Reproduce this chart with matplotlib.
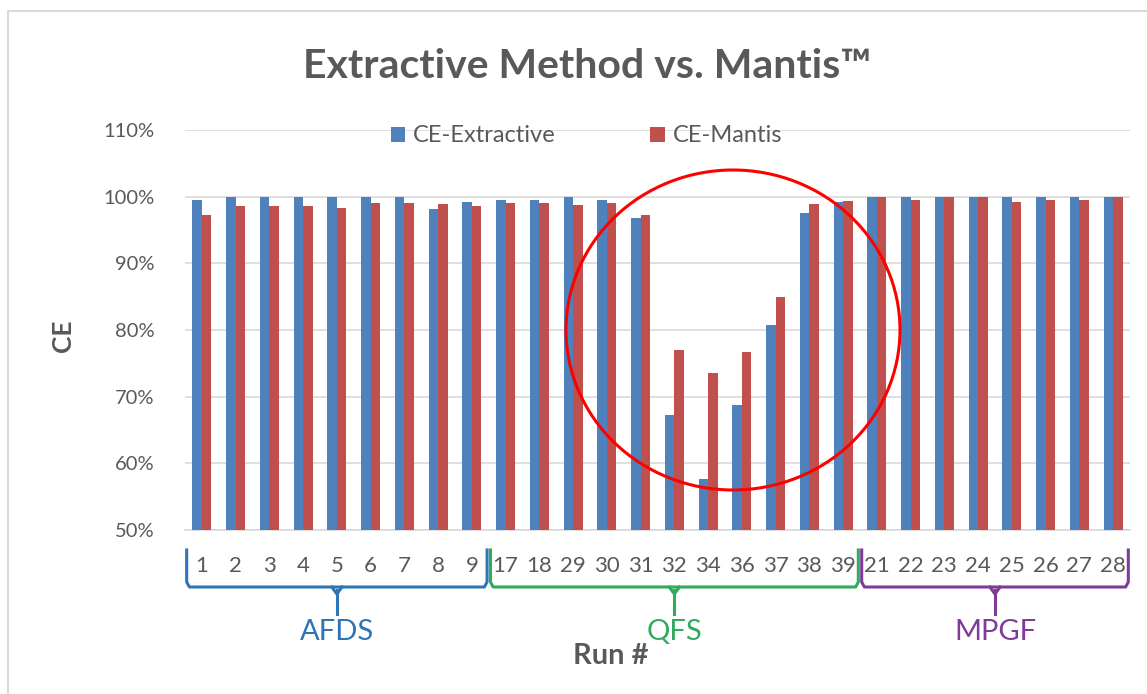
import matplotlib.pyplot as plt
import matplotlib.patches as mpatches
import matplotlib.transforms as mtransforms
import numpy as np

plt.rcParams['font.family'] = ['Lato', 'DejaVu Sans']

# data
runs = ['1', '2', '3', '4', '5', '6', '7', '8', '9',
        '17', '18', '29', '30', '31', '32', '34', '36', '37', '38', '39',
        '21', '22', '23', '24', '25', '26', '27', '28']
ce_extractive = [99.5, 99.9, 100, 100, 100, 100, 100, 98.2, 99.2,
                 99.5, 99.5, 100, 99.5, 96.8, 67.2, 57.7, 68.8, 80.8, 97.6, 99.2,
                 100, 100, 100, 100, 100, 100, 100, 100]
ce_mantis = [97.3, 98.6, 98.6, 98.6, 98.3, 99.0, 99.0, 98.9, 98.6,
             99.0, 99.0, 98.7, 99.0, 97.3, 77.0, 73.6, 76.7, 85.0, 98.9, 99.4,
             100, 99.5, 100, 100, 99.2, 99.5, 99.5, 100]
groups = ['AFDS', 'QFS', 'MPGF']
group_sizes = [9, 11, 8]
group_colors = ['#2e75b6', '#2eab5c', '#7d3c98']

grey = '#595959'
blue = '#4f81bd'
red = '#c0504d'

fig = plt.figure(figsize=(11.47, 6.94), dpi=100)
ax = fig.add_axes([185 / 1147, 1 - 530 / 694, (1130 - 185) / 1147, (530 - 130) / 694])

x = np.arange(len(runs))
w = 0.28
ax.bar(x - w / 2, ce_extractive, w, color=blue, label='CE-Extractive', zorder=3)
ax.bar(x + w / 2, ce_mantis, w, color=red, label='CE-Mantis', zorder=3)

ax.set_ylim(50, 110)
ax.set_xlim(-0.5, len(runs) - 0.5)
ax.set_yticks(np.arange(50, 111, 10))
ax.set_yticklabels([f'{v}%' for v in range(50, 111, 10)])
ax.set_xticks(x)
ax.set_xticklabels(runs)
ax.tick_params(axis='both', length=0, colors=grey)
ax.tick_params(axis='x', pad=19, labelsize=16)
ax.tick_params(axis='y', pad=22, labelsize=14.5)
ax.grid(axis='y', color='#d9d9d9', linewidth=1.2, zorder=0)
for s in ['top', 'right', 'left']:
    ax.spines[s].set_visible(False)
ax.spines['bottom'].set_color('#d9d9d9')
ax.spines['bottom'].set_linewidth(1.2)

fig.text(63 / 1147, 1 - 336 / 694, 'CE', rotation=90, ha='center', va='center',
         fontsize=19, fontweight='bold', color=grey)

fig.text(587 / 1147, 1 - 66 / 694, 'Extractive Method vs. Mantis™', ha='center', va='center',
         fontsize=29.5, fontweight='bold', color=grey)

leg = ax.legend(loc='center', bbox_to_anchor=(0.425, 0.985), ncol=2, frameon=False,
                fontsize=17, labelcolor=grey, handlelength=0.6, handleheight=0.6,
                columnspacing=4.0, handletextpad=0.35)

# braces under the run numbers
trans = mtransforms.blended_transform_factory(ax.transData, fig.transFigure)
def fy(py):
    return 1 - py / 694

start = -0.5
for name, n, col in zip(groups, group_sizes, group_colors):
    x0 = start + 0.05
    x1 = start + n - 0.05
    xm = start + n / 2
    ax.plot([x0, x0, x0 + 0.08, x1 - 0.08, x1, x1],
            [fy(550), fy(582), fy(587), fy(587), fy(582), fy(550)],
            color=col, lw=2.2, transform=trans, clip_on=False, solid_joinstyle='round')
    ax.plot([xm - 0.15, xm, xm + 0.15], [fy(587), fy(594), fy(587)],
            color=col, lw=2.2, transform=trans, clip_on=False)
    ax.plot([xm, xm], [fy(590), fy(614)], color=col, lw=2.2, transform=trans, clip_on=False)
    ax.text(xm, fy(632), name, color=col, fontsize=21, ha='center', va='center',
            transform=trans)
    start += n

fig.text(611 / 1147, 1 - 656 / 694, 'Run #', ha='center', va='center',
         fontsize=21, fontweight='bold', color=grey)

# red circle highlight
circ = mpatches.Ellipse((733 / 1147, 1 - 330 / 694), 334 / 1147, 320 / 694,
                        transform=fig.transFigure, fill=False, edgecolor='#ff0000', lw=2.2)
fig.patches.append(circ)

# outer chart border
border = mpatches.Rectangle((8 / 1147, -0.1), 1.2, 1 - 11 / 694 + 0.1,
                            transform=fig.transFigure, fill=False, edgecolor='#d9d9d9', lw=1.5)
fig.patches.append(border)

fig.savefig('out.png', dpi=100)
